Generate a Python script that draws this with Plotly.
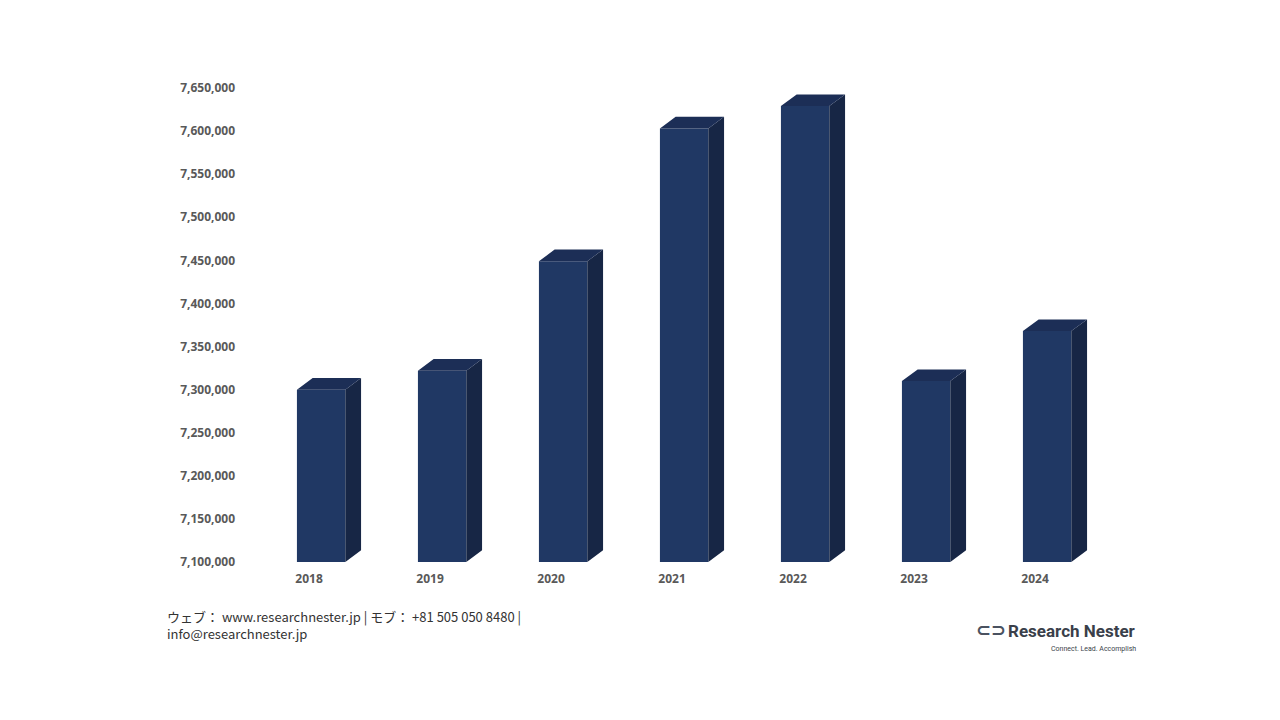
import plotly.graph_objects as go

years = ["2018", "2019", "2020", "2021", "2022", "2023", "2024"]
values = [7300000, 7322000, 7449000, 7603000, 7629000, 7310000, 7368000]
y_ticks = list(range(7100000, 7650001, 50000))
BASE = 7100000

W = 0.4
DX = 0.13
DY = 13500

xs = [i + 0.03 for i in range(len(years))]
fig = go.Figure()
fig.add_trace(go.Bar(x=xs, y=[v - BASE for v in values], base=BASE, width=W,
                     marker=dict(color="#203864", line=dict(width=0)), hoverinfo="skip"))

sx, sy, tx, ty = [], [], [], []
for x, v in zip(xs, values):
    r = x + W / 2
    l = x - W / 2
    sx += [r, r + DX, r + DX, r, r, None]
    sy += [BASE, BASE + DY, v + DY, v, BASE, None]
    tx += [l, r, r + DX, l + DX, l, None]
    ty += [v, v, v + DY, v + DY, v, None]
fig.add_trace(go.Scatter(x=sx, y=sy, fill="toself", fillcolor="#172645", mode="lines",
                         line=dict(width=0, color="#172645"), hoverinfo="skip"))
fig.add_trace(go.Scatter(x=tx, y=ty, fill="toself", fillcolor="#1c2e56", mode="lines",
                         line=dict(width=0, color="#1c2e56"), hoverinfo="skip"))

tick_x = [i - 0.07 for i in range(len(years))]
fig.update_layout(
    width=1280, height=720, showlegend=False,
    paper_bgcolor="white", plot_bgcolor="white",
    margin=dict(l=249, r=184, t=80, b=166),
    font=dict(family="Open Sans", color="#595959"),
    xaxis=dict(range=[-0.5, 6.5], tickvals=tick_x, ticktext=[f"<b>{y}</b>" for y in years],
               showgrid=False, zeroline=False, showline=False, ticks="",
               tickfont=dict(size=12, color="#595959", family="Open Sans"), ticklabelstandoff=8),
    yaxis=dict(range=[BASE, 7650000], tickvals=y_ticks,
               ticktext=[f"<b>{t:,}</b>" for t in y_ticks], showgrid=False, zeroline=False,
               showline=False, ticks="", tickfont=dict(size=12, color="#595959", family="Open Sans"),
               ticklabelstandoff=21),
)
fig.add_annotation(xref="paper", yref="paper", x=-0.109, y=-0.09, xanchor="left", yanchor="top",
                   align="left", showarrow=False,
                   text="ウェブ： www.researchnester.jp | モブ： +81 505 050 8480 |<br>info@researchnester.jp",
                   font=dict(size=13, color="#333333", family="Noto Sans CJK JP"))
fig.add_annotation(xref="paper", yref="paper", x=1.04, y=-0.12, xanchor="right", yanchor="top",
                   showarrow=False, text="<b>Research Nester</b>",
                   font=dict(size=17, color="#3a3f4a", family="Roboto"))
fig.add_annotation(xref="paper", yref="paper", x=1.04, y=-0.17, xanchor="right", yanchor="top",
                   showarrow=False, text="Connect. Lead. Accomplish",
                   font=dict(size=7, color="#3a3f4a", family="Roboto"))
fig.add_annotation(xref="paper", yref="paper", x=0.847, y=-0.115, xanchor="left", yanchor="top",
                   showarrow=False, text="<b>⊂⊃</b>",
                   font=dict(size=18, color="#4a5260", family="DejaVu Sans"))
fig.write_html("out.html")
